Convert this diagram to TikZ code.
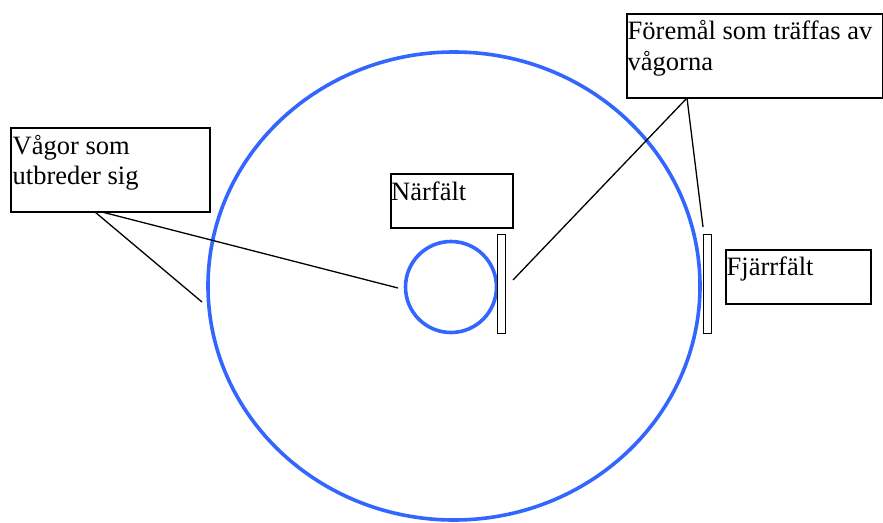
\documentclass[tikz,border=0pt]{standalone}
\usepackage{fontspec}
\setmainfont{Liberation Serif}
\definecolor{wblue}{RGB}{51,102,255}
\begin{document}
\begin{tikzpicture}[x=1pt,y=-1pt,
  box/.style={draw=black,line width=1.5pt,fill=white,minimum width=#1,anchor=north west,inner sep=0pt},
  lbl/.style={anchor=base west,inner sep=0pt,font=\fontsize{26.5}{30}\selectfont},
  wave/.style={draw=wblue,line width=3.6pt},
  conn/.style={draw=black,line width=1.3pt},
  plate/.style={draw=black,line width=1.4pt,fill=white,anchor=north west,inner sep=0pt,minimum width=8pt,minimum height=99pt}]
\useasboundingbox (0,0) rectangle (883,522);
% waves
\draw[wave] (454,286) ellipse [x radius=246, y radius=234];
\draw[wave] (451,287) circle [radius=45.5];
% plates
\node[plate] (p1) at (497,234) {};
\node[plate] (p2) at (702.5,234) {};
% boxes
\node[box=199pt,minimum height=84pt] (bleft) at (10,127) {};
\node[lbl] (tleft1) at (12.5,154) {Vågor som};
\node[lbl] (tleft2) at (12.5,184) {utbreder sig};
\node[box=256pt,minimum height=84pt] (bright) at (626,13) {};
\node[lbl] (tright1) at (627.5,39) {Föremål som träffas av};
\node[lbl] (tright2) at (627.5,70) {vågorna};
\node[box=122pt,minimum height=54pt] (bnear) at (390,173) {};
\node[lbl] (tnear) at (391,200) {Närfält};
\node[box=145pt,minimum height=54pt] (bfar) at (725,249) {};
\node[lbl] (tfar) at (726.5,275) {Fjärrfält};
% connector anchors
\coordinate (a1) at (95,212);
\coordinate (a2) at (102,212);
\coordinate (e1) at (202,302);
\coordinate (e2) at (398,288);
\coordinate (apex) at (687,98);
\coordinate (e3) at (703,227);
\coordinate (e4) at (513,280);
\draw[conn] (a1) -- (e1);
\draw[conn] (a2) -- (e2);
\draw[conn] (apex) -- (e3);
\draw[conn] (apex) -- (e4);
\end{tikzpicture}
\end{document}
